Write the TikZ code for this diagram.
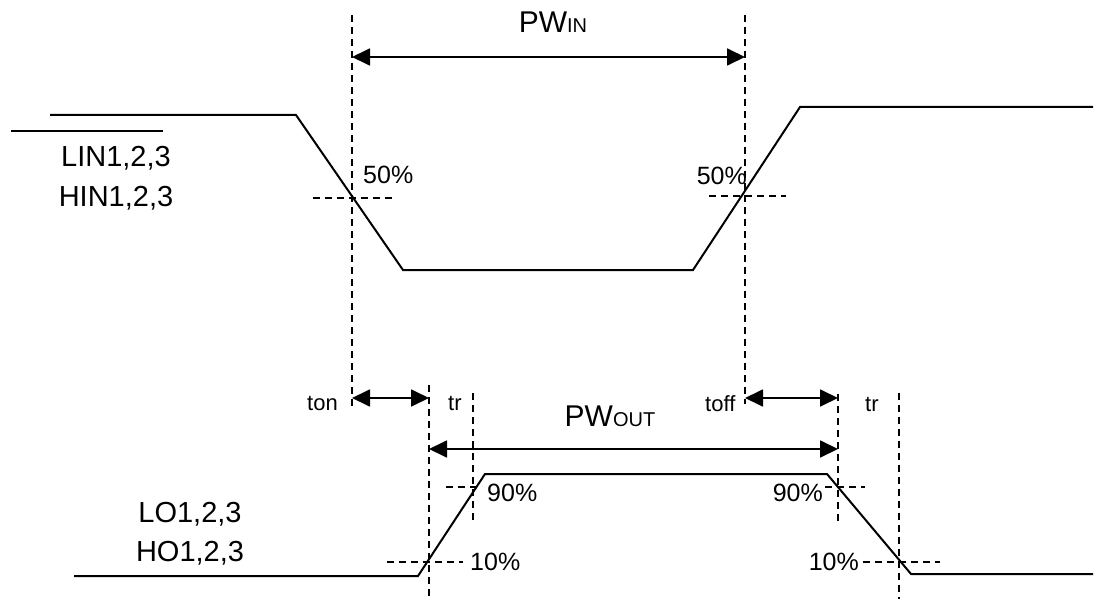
\documentclass[tikz,border=0pt]{standalone}
\usepackage{fontspec}
\setmainfont{Liberation Sans}
\usetikzlibrary{arrows.meta}
\begin{document}
\begin{tikzpicture}[x=1pt,y=-1pt,
  wave/.style={line width=2pt, line join=miter},
  guide/.style={line width=1.6pt, dash pattern=on 7pt off 5pt},
  dimline/.style={line width=1.8pt, {Triangle[length=18pt,width=17pt]}-{Triangle[length=18pt,width=17pt]}},
  big/.style={font=\fontsize{29}{33}\selectfont, inner sep=0pt, anchor=base},
  pw/.style={font=\fontsize{30}{34}\selectfont, inner sep=0pt, anchor=base},
  sc/.style={font=\fontsize{20}{24}\selectfont},
  pct/.style={font=\fontsize{25}{28}\selectfont, inner sep=0pt, anchor=base},
  tlab/.style={font=\fontsize{22}{26}\selectfont, inner sep=0pt, anchor=base},
  ]
\useasboundingbox (0,0) rectangle (1095,599);

% ---- input waveform
\coordinate (i0) at (50,115);
\coordinate (i1) at (296,115);
\coordinate (i2) at (403,270);
\coordinate (i3) at (693,270);
\coordinate (i4) at (800,107);
\coordinate (i5) at (1093,107);
\draw[wave] (i0) -- (i1) -- (i2) -- (i3) -- (i4) -- (i5);
\coordinate (ob0) at (11,131);
\coordinate (ob1) at (163,131);
\draw[wave] (ob0) -- (ob1);

% ---- output waveform
\coordinate (o0) at (74,576);
\coordinate (o1) at (418,576);
\coordinate (o2) at (485,474);
\coordinate (o3) at (827,474);
\coordinate (o4) at (911,574);
\coordinate (o5) at (1093,574);
\draw[wave] (o0) -- (o1) -- (o2) -- (o3) -- (o4) -- (o5);

% ---- vertical guides
\coordinate (v1a) at (352,15);  \coordinate (v1b) at (352,408);
\coordinate (v2a) at (745,15);  \coordinate (v2b) at (745,404);
\coordinate (v3a) at (429,385); \coordinate (v3b) at (429,599);
\coordinate (v4a) at (473,393); \coordinate (v4b) at (473,520);
\coordinate (v5a) at (838,394); \coordinate (v5b) at (838,524);
\coordinate (v6a) at (899,393); \coordinate (v6b) at (899,599);
\draw[guide] (v1a) -- (v1b);
\draw[guide] (v2a) -- (v2b);
\draw[guide] (v3a) -- (v3b);
\draw[guide] (v4a) -- (v4b);
\draw[guide] (v5a) -- (v5b);
\draw[guide] (v6a) -- (v6b);

% ---- horizontal guides
\coordinate (h1a) at (313,198); \coordinate (h1b) at (392,198);
\coordinate (h2a) at (709,196); \coordinate (h2b) at (786,196);
\coordinate (h3a) at (446,487); \coordinate (h3b) at (478,487);
\coordinate (h4a) at (387,562); \coordinate (h4b) at (463,562);
\coordinate (h5a) at (825,487); \coordinate (h5b) at (865,487);
\coordinate (h6a) at (863,562); \coordinate (h6b) at (940,562);
\draw[guide] (h1a) -- (h1b);
\draw[guide] (h2a) -- (h2b);
\draw[guide] (h3a) -- (h3b);
\draw[guide] (h4a) -- (h4b);
\draw[guide] (h5a) -- (h5b);
\draw[guide] (h6a) -- (h6b);

% ---- dimension arrows
\coordinate (pwa) at (352,57);  \coordinate (pwb) at (745,57);
\coordinate (ona) at (352,398); \coordinate (onb) at (429,398);
\coordinate (ofa) at (745,398); \coordinate (ofb) at (838,398);
\coordinate (poa) at (429,449); \coordinate (pob) at (838,449);
\draw[dimline] (pwa) -- (pwb);
\draw[dimline] (ona) -- (onb);
\draw[dimline] (ofa) -- (ofb);
\draw[dimline] (poa) -- (pob);

% ---- labels
\node[pw] (pwin) at (553,33) {PW{\fontsize{20}{24}\selectfont IN}};
\node[pw] (pwout) at (610,426) {PW{\fontsize{20}{24}\selectfont OUT}};
\node[big] (lin) at (116,166) {LIN1,2,3};
\node[big] (hin) at (116,206) {HIN1,2,3};
\node[big] (lo) at (190,522) {LO1,2,3};
\node[big] (ho) at (190,561) {HO1,2,3};
\node[pct, anchor=base west] (p50a) at (363,183) {50\%};
\node[pct, anchor=base east] (p50b) at (747,184) {50\%};
\node[pct, anchor=base west] (p90a) at (487,501) {90\%};
\node[pct, anchor=base west] (p10a) at (470,570) {10\%};
\node[pct, anchor=base east] (p90b) at (823,501) {90\%};
\node[pct, anchor=base east] (p10b) at (859,570) {10\%};
\node[tlab, anchor=base west] (ton) at (307,410) {ton};
\node[tlab, anchor=base west] (tr1) at (448,410) {tr};
\node[tlab, anchor=base west] (toff) at (705,411) {toff};
\node[tlab, anchor=base west] (tr2) at (865,411) {tr};
\end{tikzpicture}
\end{document}
